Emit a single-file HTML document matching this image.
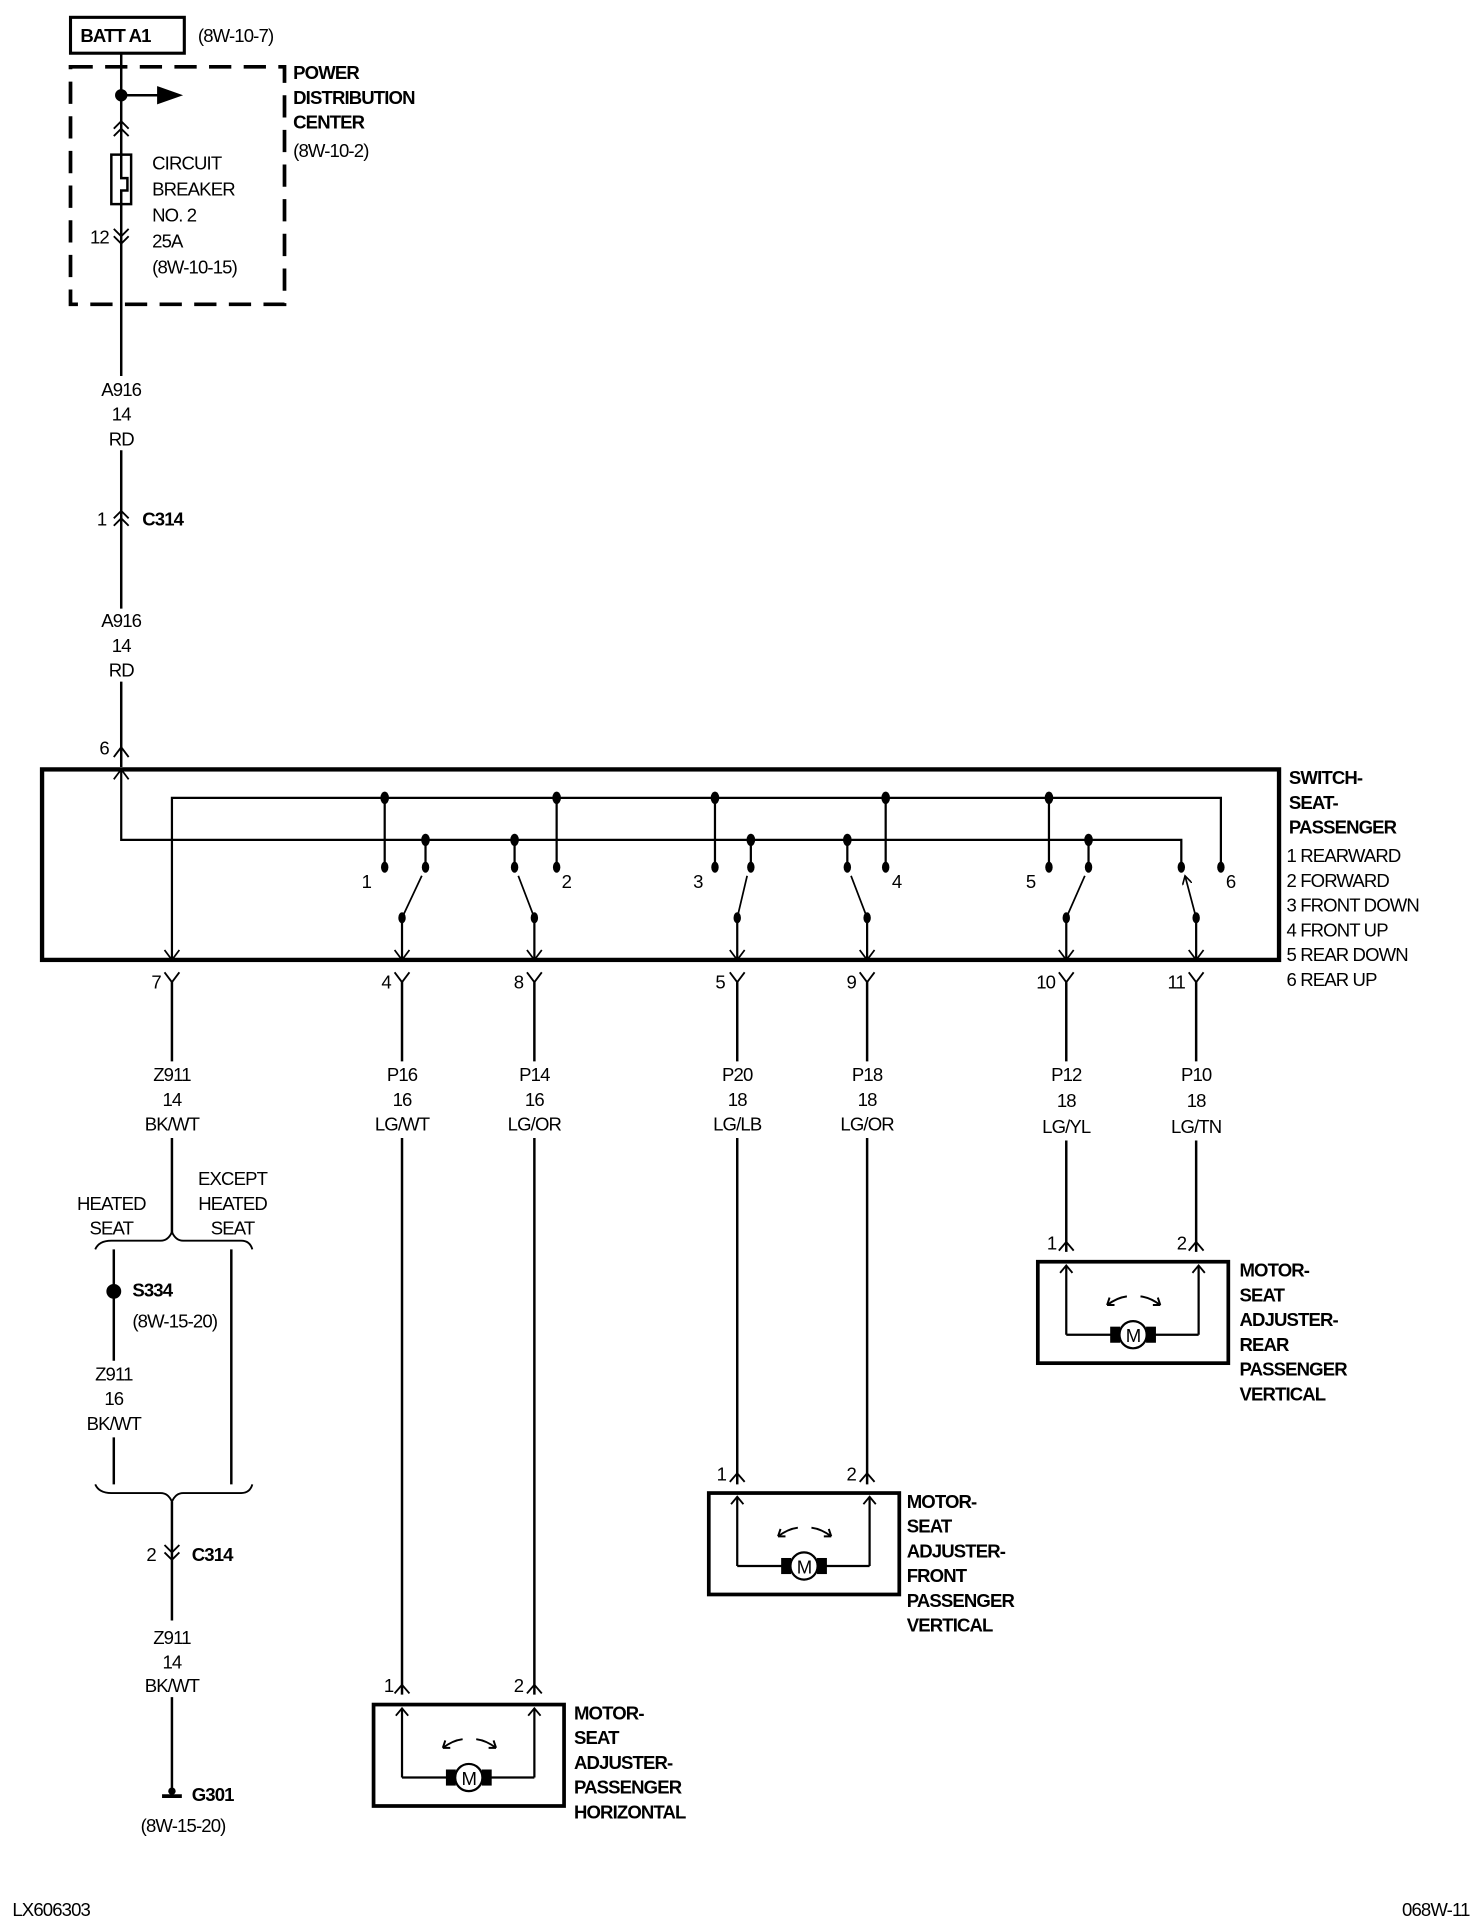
<!DOCTYPE html>
<html><head><meta charset="utf-8"><style>
html,body{margin:0;padding:0;background:#fff;}
svg{display:block;}
text{font-family:"Liberation Sans",sans-serif;font-size:15px;fill:#000;letter-spacing:-0.7px;}
.b{font-weight:bold;}
.m{text-anchor:middle;}
.e{text-anchor:end;}
</style></head><body>
<svg width="1472" height="1926" viewBox="0 0 1190 1557" xmlns="http://www.w3.org/2000/svg">
<defs>
<marker id="ar" markerWidth="8" markerHeight="8" refX="7" refY="4" orient="auto" markerUnits="userSpaceOnUse"><path d="M0,0 L7,4 L0,8" fill="none" stroke="#000" stroke-width="1.3"/></marker>
<g id="motor" stroke="#000" fill="none">
<rect x="0" y="0" width="154" height="82" stroke-width="3"/>
<path d="M23,59 V3 M130,59 V3 M23,59 H62 M130,59 H92" stroke-width="1.8"/>
<path d="M18,9 L23,3 L28,9 M125,9 L130,3 L135,9" stroke-width="1.5"/>
<circle cx="77" cy="59" r="11" stroke-width="1.8" fill="#fff"/>
<rect x="59" y="53" width="7" height="12" fill="#000"/>
<rect x="88" y="53" width="7" height="12" fill="#000"/>
<path d="M72,28 Q64,29 56,35" stroke-width="1.6"/>
<path d="M56,35 L58,29 M56,35 L62,35" stroke-width="1.6"/>
<path d="M83,28 Q91,29 99,35" stroke-width="1.6"/>
<path d="M99,35 L97,29 M99,35 L93,35" stroke-width="1.6"/>
<text x="77" y="65" class="m" stroke="none" style="font-size:15px">M</text>
</g>
</defs>

<g stroke="#000" fill="none" stroke-width="2">
<rect x="57" y="14" width="92" height="29" stroke-width="2.5"/>
<rect x="57" y="54" width="173" height="192" stroke-width="3" stroke-dasharray="18,10"/>
<path d="M98,43 V304 M98,364 V492 M98,551 V620"/>
<circle cx="98" cy="77" r="4" fill="#000"/>
<path d="M98,77 H128"/>
<path d="M128,71 L145,77 L128,83 Z" fill="#000"/>
<path d="M92,104 L98,98 L104,104 M92,110 L98,104 L104,110" stroke-width="1.5"/>
<rect x="90" y="125" width="16" height="40" fill="#fff"/>
<path d="M98,125 V144 H103 V154 H98 V165"/>
<path d="M92,185 L98,191 L104,185 M92,191 L98,197 L104,191" stroke-width="1.5"/>
<path d="M92,419 L98,413 L104,419 M92,425 L98,419 L104,425" stroke-width="1.5"/>
<path d="M92,612 L98,604 L104,612" stroke-width="1.5"/>

<rect x="34" y="622" width="1000" height="154" stroke-width="3.5"/>
<path d="M98,622 V679 H955 V700" stroke-width="1.8"/>
<path d="M92,630 L98,622 L104,630" stroke-width="1.4"/>
<path d="M139,776 V645 H987 V700" stroke-width="1.8"/>
<path d="M311,645 V700 M450,645 V700 M578,645 V700 M716,645 V700 M848,645 V700" stroke-width="1.8"/>
<path d="M344,679 V700 M416,679 V700 M607,679 V700 M685,679 V700 M880,679 V700" stroke-width="1.8"/>
<g fill="#000" stroke="none">
<ellipse cx="311" cy="645" rx="3.5" ry="5"/><ellipse cx="450" cy="645" rx="3.5" ry="5"/><ellipse cx="578" cy="645" rx="3.5" ry="5"/><ellipse cx="716" cy="645" rx="3.5" ry="5"/><ellipse cx="848" cy="645" rx="3.5" ry="5"/>
<ellipse cx="344" cy="679" rx="3.5" ry="5"/><ellipse cx="416" cy="679" rx="3.5" ry="5"/><ellipse cx="607" cy="679" rx="3.5" ry="5"/><ellipse cx="685" cy="679" rx="3.5" ry="5"/><ellipse cx="880" cy="679" rx="3.5" ry="5"/>
<ellipse cx="311" cy="701" rx="3" ry="4.5"/><ellipse cx="450" cy="701" rx="3" ry="4.5"/><ellipse cx="578" cy="701" rx="3" ry="4.5"/><ellipse cx="716" cy="701" rx="3" ry="4.5"/><ellipse cx="848" cy="701" rx="3" ry="4.5"/><ellipse cx="987" cy="701" rx="3" ry="4.5"/>
<ellipse cx="344" cy="701" rx="3" ry="4.5"/><ellipse cx="416" cy="701" rx="3" ry="4.5"/><ellipse cx="607" cy="701" rx="3" ry="4.5"/><ellipse cx="685" cy="701" rx="3" ry="4.5"/><ellipse cx="880" cy="701" rx="3" ry="4.5"/><ellipse cx="955" cy="701" rx="3" ry="4.5"/>
<ellipse cx="325" cy="742" rx="3" ry="4.5"/><ellipse cx="432" cy="742" rx="3" ry="4.5"/><ellipse cx="596" cy="742" rx="3" ry="4.5"/><ellipse cx="701" cy="742" rx="3" ry="4.5"/><ellipse cx="862" cy="742" rx="3" ry="4.5"/><ellipse cx="967" cy="742" rx="3" ry="4.5"/>
</g>
<path d="M325,742 L341,708 M432,742 L419,708 M596,742 L604,708 M701,742 L688,708 M862,742 L877,708 M967,742 L958,708" stroke-width="1.4" marker-end="url(#ar)"/>
<path d="M325,742 V776 M432,742 V776 M596,742 V776 M701,742 V776 M862,742 V776 M967,742 V776" stroke-width="1.8"/>
<path d="M133,768 L139,776 L145,768 M319,768 L325,776 L331,768 M426,768 L432,776 L438,768 M590,768 L596,776 L602,768 M695,768 L701,776 L707,768 M856,768 L862,776 L868,768 M961,768 L967,776 L973,768" stroke-width="1.4"/>
<path d="M133,786 L139,794 L145,786 M319,786 L325,794 L331,786 M426,786 L432,794 L438,786 M590,786 L596,794 L602,786 M695,786 L701,794 L707,786 M856,786 L862,794 L868,786 M961,786 L967,794 L973,786" stroke-width="1.5"/>
<path d="M139,794 V858 M139,920 V998"/>
<path d="M325,794 V858 M325,920 V1370"/>
<path d="M432,794 V858 M432,920 V1370"/>
<path d="M596,794 V858 M596,920 V1200"/>
<path d="M701,794 V858 M701,920 V1200"/>
<path d="M862,794 V858 M862,922 V1012"/>
<path d="M967,794 V858 M967,922 V1012"/>
<path d="M319,1369 L325,1362 L331,1369 M426,1369 L432,1362 L438,1369" stroke-width="1.5"/>
<path d="M590,1198 L596,1191 L602,1198 M695,1198 L701,1191 L707,1198" stroke-width="1.5"/>
<path d="M856,1011 L862,1004 L868,1011 M961,1011 L967,1004 L973,1011" stroke-width="1.5"/>
<path d="M77,1010 Q80,1003 90,1003 H130 Q136,1003 139,996 Q142,1003 148,1003 H195 Q202,1003 204,1010" stroke-width="1.5"/>
<path d="M92,1010 V1100 M92,1162 V1200 M187,1010 V1200"/>
<circle cx="92" cy="1044" r="6" fill="#000" stroke="none"/>
<path d="M77,1200 Q80,1207 90,1207 H130 Q136,1207 139,1214 Q142,1207 148,1207 H195 Q202,1207 204,1200" stroke-width="1.5"/>
<path d="M139,1214 V1310 M139,1372 V1450"/>
<path d="M133,1249 L139,1255 L145,1249 M133,1255 L139,1261 L145,1255" stroke-width="1.5"/>
<path d="M131,1452 H147" stroke-width="3"/>
</g>
<circle cx="139" cy="1448" r="3" fill="#000"/>

<use href="#motor" x="302" y="1378"/>
<use href="#motor" x="573" y="1207"/>
<use href="#motor" x="839" y="1020"/>

<text x="65" y="34" class="b">BATT A1</text>
<text x="160" y="34">(8W-10-7)</text>
<text x="237" y="64" class="b">POWER</text>
<text x="237" y="84" class="b">DISTRIBUTION</text>
<text x="237" y="104" class="b">CENTER</text>
<text x="237" y="127">(8W-10-2)</text>
<text x="123" y="137">CIRCUIT</text>
<text x="123" y="158">BREAKER</text>
<text x="123" y="179">NO. 2</text>
<text x="123" y="200">25A</text>
<text x="123" y="221">(8W-10-15)</text>
<text x="88" y="197" class="e">12</text>
<text x="98" y="320" class="m">A916</text><text x="98" y="340" class="m">14</text><text x="98" y="360" class="m">RD</text>
<text x="86" y="425" class="e">1</text><text x="115" y="425" class="b">C314</text>
<text x="98" y="507" class="m">A916</text><text x="98" y="527" class="m">14</text><text x="98" y="547" class="m">RD</text>
<text x="88" y="610" class="e">6</text>

<text x="1042" y="634" class="b">SWITCH-</text>
<text x="1042" y="654" class="b">SEAT-</text>
<text x="1042" y="674" class="b">PASSENGER</text>
<text x="1040" y="697">1 REARWARD</text>
<text x="1040" y="717">2 FORWARD</text>
<text x="1040" y="737">3 FRONT DOWN</text>
<text x="1040" y="757">4 FRONT UP</text>
<text x="1040" y="777">5 REAR DOWN</text>
<text x="1040" y="797">6 REAR UP</text>

<text x="300" y="718" class="e">1</text>
<text x="454" y="718">2</text>
<text x="568" y="718" class="e">3</text>
<text x="721" y="718">4</text>
<text x="837" y="718" class="e">5</text>
<text x="991" y="718">6</text>

<text x="130" y="799" class="e">7</text>
<text x="316" y="799" class="e">4</text>
<text x="423" y="799" class="e">8</text>
<text x="586" y="799" class="e">5</text>
<text x="692" y="799" class="e">9</text>
<text x="853" y="799" class="e">10</text>
<text x="958" y="799" class="e">11</text>

<text x="139" y="874" class="m">Z911</text><text x="139" y="894" class="m">14</text><text x="139" y="914" class="m">BK/WT</text>
<text x="325" y="874" class="m">P16</text><text x="325" y="894" class="m">16</text><text x="325" y="914" class="m">LG/WT</text>
<text x="432" y="874" class="m">P14</text><text x="432" y="894" class="m">16</text><text x="432" y="914" class="m">LG/OR</text>
<text x="596" y="874" class="m">P20</text><text x="596" y="894" class="m">18</text><text x="596" y="914" class="m">LG/LB</text>
<text x="701" y="874" class="m">P18</text><text x="701" y="894" class="m">18</text><text x="701" y="914" class="m">LG/OR</text>
<text x="862" y="874" class="m">P12</text><text x="862" y="895" class="m">18</text><text x="862" y="916" class="m">LG/YL</text>
<text x="967" y="874" class="m">P10</text><text x="967" y="895" class="m">18</text><text x="967" y="916" class="m">LG/TN</text>

<text x="90" y="978" class="m">HEATED</text><text x="90" y="998" class="m">SEAT</text>
<text x="188" y="958" class="m">EXCEPT</text><text x="188" y="978" class="m">HEATED</text><text x="188" y="998" class="m">SEAT</text>
<text x="107" y="1048" class="b">S334</text>
<text x="107" y="1073">(8W-15-20)</text>
<text x="92" y="1116" class="m">Z911</text><text x="92" y="1136" class="m">16</text><text x="92" y="1156" class="m">BK/WT</text>
<text x="126" y="1262" class="e">2</text><text x="155" y="1262" class="b">C314</text>
<text x="139" y="1329" class="m">Z911</text><text x="139" y="1349" class="m">14</text><text x="139" y="1368" class="m">BK/WT</text>
<text x="155" y="1456" class="b">G301</text>
<text x="148" y="1481" class="m">(8W-15-20)</text>

<text x="318" y="1368" class="e">1</text><text x="423" y="1368" class="e">2</text>
<text x="464" y="1390" class="b">MOTOR-</text><text x="464" y="1410" class="b">SEAT</text><text x="464" y="1430" class="b">ADJUSTER-</text><text x="464" y="1450" class="b">PASSENGER</text><text x="464" y="1470" class="b">HORIZONTAL</text>
<text x="587" y="1197" class="e">1</text><text x="692" y="1197" class="e">2</text>
<text x="733" y="1219" class="b">MOTOR-</text><text x="733" y="1239" class="b">SEAT</text><text x="733" y="1259" class="b">ADJUSTER-</text><text x="733" y="1279" class="b">FRONT</text><text x="733" y="1299" class="b">PASSENGER</text><text x="733" y="1319" class="b">VERTICAL</text>
<text x="854" y="1010" class="e">1</text><text x="959" y="1010" class="e">2</text>
<text x="1002" y="1032" class="b">MOTOR-</text><text x="1002" y="1052" class="b">SEAT</text><text x="1002" y="1072" class="b">ADJUSTER-</text><text x="1002" y="1092" class="b">REAR</text><text x="1002" y="1112" class="b">PASSENGER</text><text x="1002" y="1132" class="b">VERTICAL</text>

<text x="10" y="1549">LX606303</text>
<text x="1188" y="1549" class="e">068W-11</text>
</svg>
</body></html>
